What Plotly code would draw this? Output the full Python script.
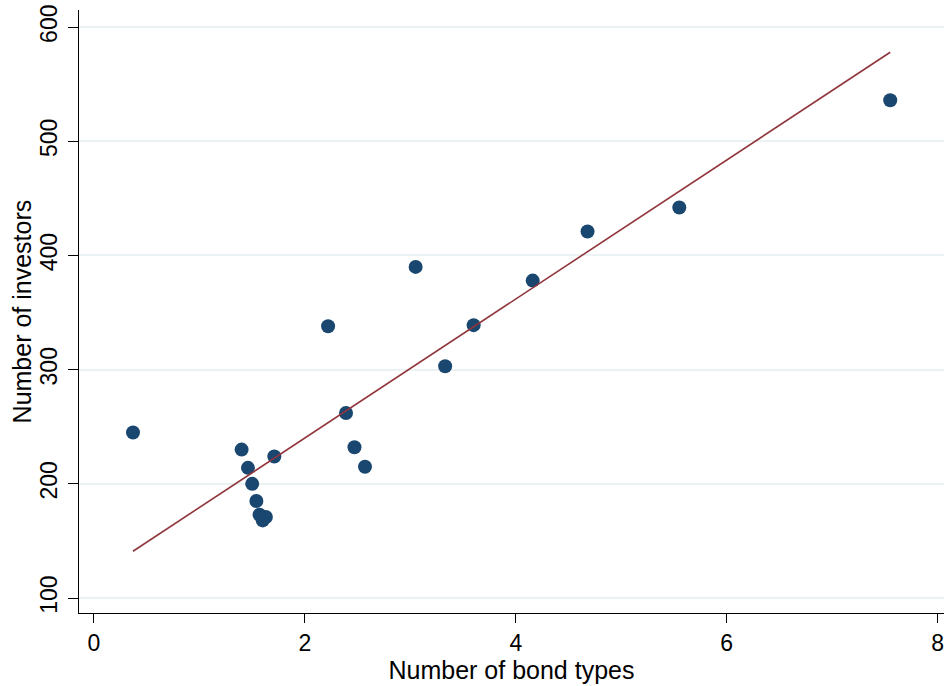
import plotly.graph_objects as go

bond_types = [0.37, 1.40, 1.46, 1.50, 1.54, 1.57, 1.60, 1.63, 1.71, 2.22, 2.39, 2.47, 2.57,
              3.05, 3.33, 3.60, 4.16, 4.68, 5.55, 7.55]
investors = [245, 230, 214, 200, 185, 173, 168, 171, 224, 338, 262, 232, 215,
             390, 303, 339, 378, 421, 442, 536]

# fitted line
fit_x = [0.37, 7.55]
fit_y = [141, 578]

x_ticks = [0, 2, 4, 6, 8]
y_ticks = [100, 200, 300, 400, 500, 600]

font = "Liberation Sans, Arial, sans-serif"

fig = go.Figure()
fig.add_trace(go.Scatter(x=bond_types, y=investors, mode="markers",
                         marker=dict(color="#1a476f", size=14, line=dict(width=0)),
                         showlegend=False))
fig.add_trace(go.Scatter(x=fit_x, y=fit_y, mode="lines",
                         line=dict(color="#90353b", width=1.6), showlegend=False))

fig.update_layout(
    width=944, height=686,
    margin=dict(l=79, r=0, t=10, b=73),
    paper_bgcolor="white", plot_bgcolor="white",
    font=dict(family=font, color="black", size=25),
    xaxis=dict(range=[-0.142, 8.06], tickvals=x_ticks, ticks="outside", ticklen=9,
               tickcolor="black", showline=True, linecolor="black", linewidth=1.2,
               showgrid=False, zeroline=False, tickfont=dict(size=23), automargin=False,
               ticklabeloverflow="allow",
               title=dict(text="Number of bond types", font=dict(size=25), standoff=6)),
    yaxis=dict(range=[86.9, 615], tickvals=y_ticks, ticks="outside", ticklen=10,
               tickcolor="black", showline=True, linecolor="black", linewidth=1.2,
               showgrid=True, gridcolor="#eaf2f3", gridwidth=1.5, zeroline=False,
               tickangle=-90, tickfont=dict(size=23), automargin=False,
               ticklabelstandoff=2, ticklabeloverflow="allow"),
    annotations=[dict(text="Number of investors", xref="paper", yref="paper",
                      x=-0.066, y=0.5, xanchor="center", yanchor="middle",
                      textangle=-90, showarrow=False, font=dict(size=25))],
)

fig.write_html(
    "out.html",
    config={"displayModeBar": False},
    post_script="document.body.style.margin='0';document.body.style.overflow='hidden';",
)
